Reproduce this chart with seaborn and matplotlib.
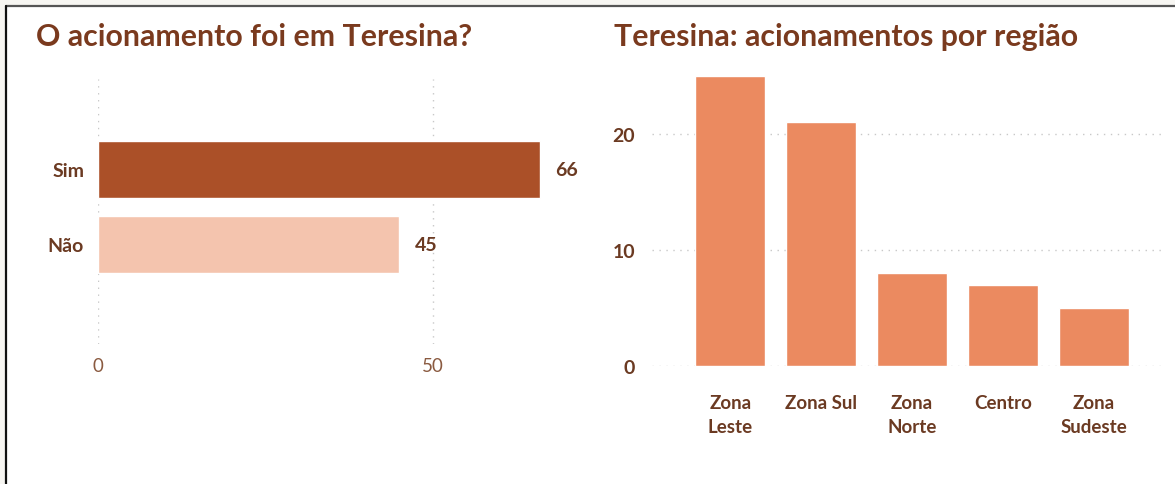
import pandas as pd
import matplotlib.pyplot as plt
import seaborn as sns
from matplotlib.patches import Rectangle
from matplotlib.lines import Line2D

# data
resp_labels = ['Sim', 'Não']
resp_values = [66, 45]
resp_colors = ['#ab5028', '#f4c4ae']

regioes = ['Zona\nLeste', 'Zona Sul', 'Zona\nNorte', 'Centro', 'Zona\nSudeste']
regiao_values = [25, 21, 8, 7, 5]
regiao_color = '#eb8a60'

title_color = '#7a3a1e'
label_color = '#6b3a22'
grid_color = '#c8c8c8'

sns.set_style('white')
plt.rcParams['font.family'] = ['Lato', 'DejaVu Sans']

W, H = 1175, 485
fig = plt.figure(figsize=(W / 100, H / 100), dpi=100)
fig.patch.set_facecolor('#f7f6f2')

# white card with border (top and left edges visible)
fig.patches.append(Rectangle((6 / W, 0), 1, 1 - 6 / H, transform=fig.transFigure,
                             facecolor='white', edgecolor='none', zorder=-10))
fig.lines.append(Line2D([6 / W, 1], [1 - 6.5 / H, 1 - 6.5 / H], transform=fig.transFigure,
                        color='#555555', lw=1.6))
fig.lines.append(Line2D([6 / W, 6 / W], [0, 1 - 6.5 / H], transform=fig.transFigure,
                        color='#111111', lw=1.6))

def px_axes(x0, y0, x1, y1):
    return fig.add_axes([x0 / W, 1 - y1 / H, (x1 - x0) / W, (y1 - y0) / H])

# left chart: horizontal bars
df1 = pd.DataFrame({'resp': resp_labels, 'n': resp_values})
ax1 = px_axes(98, 80, 580, 345)
sns.barplot(data=df1, y='resp', x='n', hue='resp', palette=resp_colors,
            legend=False, width=0.76, saturation=1, ax=ax1, orient='h')
ax1.set_xlim(0, 72)
ax1.set_ylim(2.33, -1.2)
ax1.set_xticks([0, 50])
ax1.xaxis.grid(True, linestyle=(0, (1, 4)), color=grid_color, lw=1)
ax1.set_axisbelow(True)
sns.despine(ax=ax1, left=True, bottom=True)
ax1.set_xlabel('')
ax1.set_ylabel('')
ax1.tick_params(axis='x', length=0, pad=9, labelsize=13.5, labelcolor='#8a5a40')
ax1.tick_params(axis='y', length=0, pad=10, labelsize=14, labelcolor=label_color)
for t in ax1.get_yticklabels():
    t.set_fontweight('bold')
for c in ax1.containers:
    ax1.bar_label(c, padding=11, fontsize=14, fontweight='bold', color=label_color)
fig.text(36 / W, 1 - 37 / H, 'O acionamento foi em Teresina?', fontsize=21.8,
         fontweight='bold', color=title_color, va='center', ha='left')

# right chart: vertical bars
df2 = pd.DataFrame({'regiao': regioes, 'n': regiao_values})
ax2 = px_axes(652, 70, 1165, 367)
sns.barplot(data=df2, x='regiao', y='n', color=regiao_color, width=0.77,
            saturation=1, ax=ax2)
ax2.set_xlim(-0.86, 4.78)
ax2.set_ylim(0, 25.6)
ax2.set_yticks([0, 10, 20])
ax2.yaxis.grid(True, linestyle=(0, (1, 4)), color=grid_color, lw=1)
ax2.set_axisbelow(True)
sns.despine(ax=ax2, left=True, bottom=True)
ax2.set_xlabel('')
ax2.set_ylabel('')
ax2.tick_params(axis='y', length=0, pad=12, labelsize=14, labelcolor=label_color)
ax2.tick_params(axis='x', length=0, pad=20, labelsize=13.5, labelcolor=label_color)
for t in ax2.get_yticklabels() + ax2.get_xticklabels():
    t.set_fontweight('bold')
for t in ax2.get_xticklabels():
    t.set_linespacing(1.55)
fig.text(614 / W, 1 - 37 / H, 'Teresina: acionamentos por região', fontsize=21.8,
         fontweight='bold', color=title_color, va='center', ha='left')

fig.savefig('out.png', dpi=100, facecolor=fig.get_facecolor())
